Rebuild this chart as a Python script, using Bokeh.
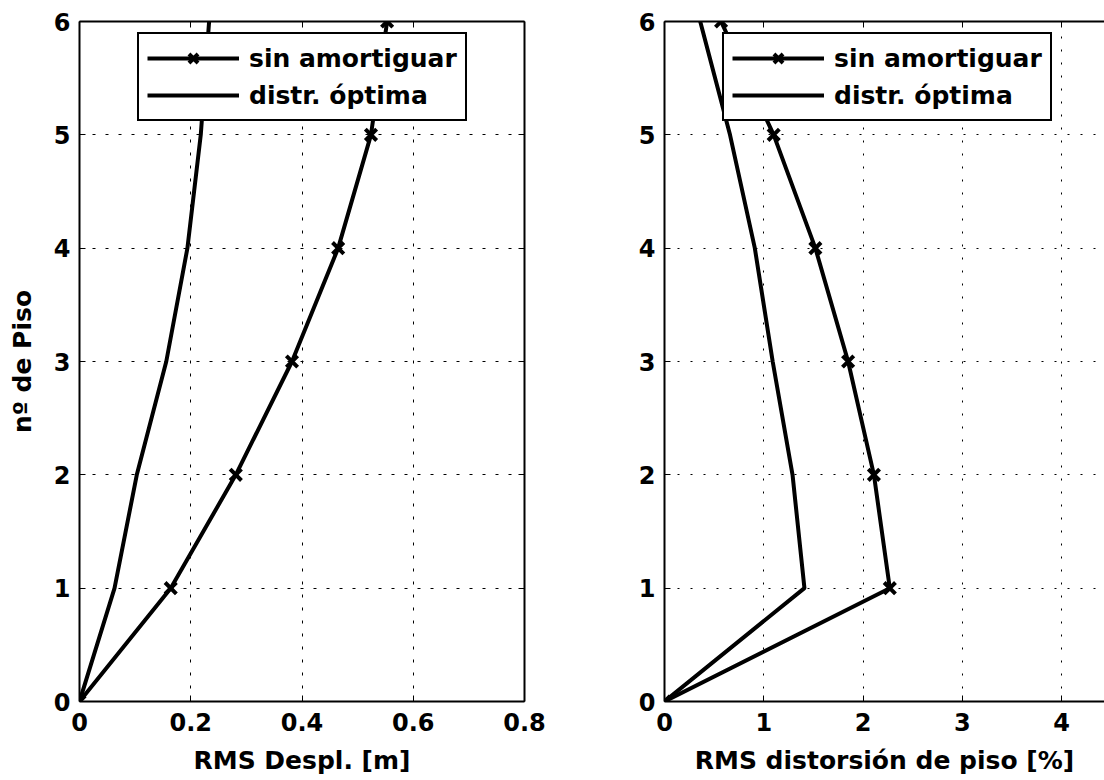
from bokeh.plotting import figure
from bokeh.models import LinearAxis, Range1d, Legend, LegendItem, FixedTicker
from bokeh.layouts import row
from bokeh.embed import file_html
from bokeh.resources import INLINE

# ---- data ----
piso = [0, 1, 2, 3, 4, 5, 6]
desp_sin = [0, 0.164, 0.281, 0.382, 0.465, 0.524, 0.553]
desp_opt = [0, 0.063, 0.103, 0.156, 0.194, 0.218, 0.233]
dist_sin = [0, 2.27, 2.11, 1.85, 1.52, 1.10, 0.57]
dist_opt = [0, 1.41, 1.29, 1.09, 0.91, 0.66, 0.36]

y_ticks = [0, 1, 2, 3, 4, 5, 6]
x_ticks_left = [0, 0.2, 0.4, 0.6, 0.8]
x_ticks_right = [0, 1, 2, 3, 4, 5]

label_left = "RMS Despl. [m]"
label_right = "RMS distorsión de piso [%]"
label_y = "nº de Piso"
series_names = ["sin amortiguar", "distr. óptima"]

FONT = "DejaVu Sans"


def base_axis(ax):
    ax.axis_line_color = "black"
    ax.axis_line_width = 2
    ax.major_tick_line_color = "black"
    ax.major_tick_line_width = 1
    ax.major_tick_in = 6
    ax.major_tick_out = 0
    ax.minor_tick_line_color = "black"
    ax.minor_tick_line_width = 1
    ax.minor_tick_in = 6
    ax.minor_tick_out = 0


def style_axis(ax, ticks):
    ax.ticker = FixedTicker(ticks=ticks)
    base_axis(ax)
    ax.minor_tick_in = 0
    ax.minor_tick_line_color = None
    ax.major_label_text_font = FONT
    ax.major_label_text_font_style = "bold"
    ax.major_label_text_font_size = "24px"
    ax.major_label_text_color = "black"
    ax.major_label_standoff = 9
    ax.axis_label_text_font = FONT
    ax.axis_label_text_font_style = "bold"
    ax.axis_label_text_font_size = "25px"
    ax.axis_label_text_color = "black"


def frame_axis(ticks):
    # axis line with inward tick marks only (no labels): ticks drawn as minor ticks
    ax = LinearAxis(ticker=FixedTicker(ticks=[], minor_ticks=ticks))
    base_axis(ax)
    ax.major_label_standoff = 0
    return ax


def make_fig(xmax, xticks, frame_w, b_left, b_right, xs_sin, xs_opt, xlabel, ylabel, right_axis, dash):
    p = figure(frame_width=frame_w, frame_height=680,
               x_range=Range1d(0, xmax), y_range=Range1d(0, 6),
               output_backend="svg", toolbar_location=None,
               min_border_left=b_left, min_border_right=b_right,
               min_border_top=21, min_border_bottom=79)
    p.outline_line_color = None
    p.background_fill_color = "white"
    p.border_fill_color = "white"

    style_axis(p.xaxis[0], xticks)
    style_axis(p.yaxis[0], y_ticks)
    p.xaxis[0].axis_label = xlabel
    p.xaxis[0].major_label_standoff = 11
    p.xaxis[0].axis_label_standoff = 12
    if ylabel:
        p.yaxis[0].axis_label = ylabel
        p.yaxis[0].axis_label_standoff = 14

    p.add_layout(frame_axis(xticks), "above")
    if right_axis:
        p.add_layout(frame_axis(y_ticks), "right")

    p.xgrid.ticker = FixedTicker(ticks=xticks)
    p.ygrid.ticker = FixedTicker(ticks=y_ticks)
    for g in (p.xgrid, p.ygrid):
        g.grid_line_color = "black"
        g.grid_line_width = 1
        g.grid_line_dash = dash

    l1 = p.line(xs_sin, piso, line_color="black", line_width=4)
    s1 = p.scatter(xs_sin, piso, marker="x", size=16, line_color="black", line_width=4)
    l2 = p.line(xs_opt, piso, line_color="black", line_width=4)

    legend = Legend(items=[LegendItem(label=series_names[0], renderers=[l1, s1]),
                           LegendItem(label=series_names[1], renderers=[l2])],
                    location=(58, 580))
    legend.border_line_color = "black"
    legend.border_line_alpha = 1
    legend.border_line_width = 2
    legend.background_fill_color = "white"
    legend.background_fill_alpha = 1
    legend.label_text_font = FONT
    legend.label_text_font_style = "bold"
    legend.label_text_font_size = "25px"
    legend.label_text_color = "black"
    legend.glyph_width = 92
    legend.glyph_height = 32
    legend.label_height = 32
    legend.label_standoff = 10
    legend.spacing = 5
    legend.padding = 8
    legend.margin = 0
    p.add_layout(legend)
    return p


p1 = make_fig(0.8, x_ticks_left, 445, 79, 36, desp_sin, desp_opt,
              label_left, label_y, True, "3 10")
p2 = make_fig(4.433, x_ticks_right, 440, 104, 0, dist_sin, dist_opt,
              label_right, None, False, "2 11")

layout = row(p1, p2)
open("out.html", "w").write(file_html(layout, INLINE))
